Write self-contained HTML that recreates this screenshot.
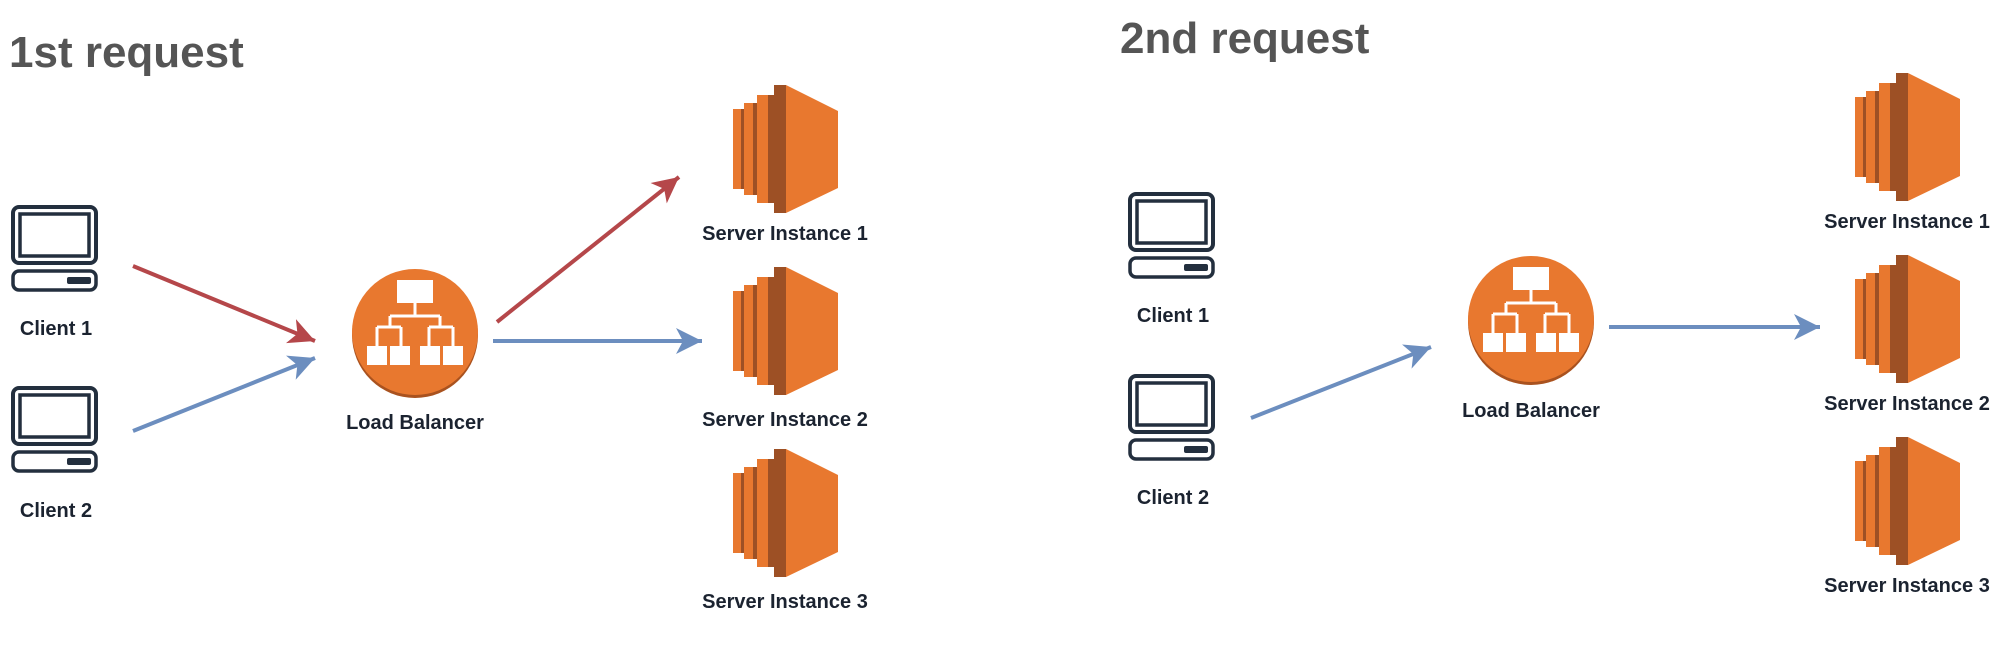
<!DOCTYPE html>
<html><head><meta charset="utf-8"><style>
html,body{margin:0;padding:0;background:#fff;}
svg{display:block;}
.t{font-family:"Liberation Sans",Arial,sans-serif;font-weight:bold;font-size:20px;fill:#1b2330;text-anchor:middle;}
.h{font-family:"Liberation Sans",Arial,sans-serif;font-weight:bold;font-size:44px;fill:#555;}
</style></head><body>
<svg width="2000" height="664" viewBox="0 0 2000 664" xmlns="http://www.w3.org/2000/svg">
<defs>
<g id="client">
  <rect x="2" y="2" width="83" height="56" rx="6" fill="none" stroke="#232f3e" stroke-width="4"/>
  <rect x="9" y="9" width="69" height="42" fill="none" stroke="#232f3e" stroke-width="3.5"/>
  <rect x="2" y="66" width="83" height="19" rx="6" fill="none" stroke="#232f3e" stroke-width="3.5"/>
  <rect x="56" y="72" width="24" height="7" rx="2" fill="#232f3e"/>
</g>
<g id="server">
  <rect x="0" y="24" width="12" height="80" fill="#e8782f"/>
  <rect x="8" y="24" width="4" height="80" fill="#9d5025"/>
  <rect x="11" y="18" width="14" height="92" fill="#e8782f"/>
  <rect x="20" y="18" width="5" height="92" fill="#9d5025"/>
  <rect x="24" y="10" width="18" height="108" fill="#e8782f"/>
  <rect x="35" y="10" width="7" height="108" fill="#9d5025"/>
  <polygon points="41,0 53,0 53,128 41,128" fill="#9d5025"/>
  <polygon points="53,0 105,26 105,103 53,128" fill="#e8782f"/>
</g>
<g id="lb">
  <circle cx="0" cy="3" r="63" fill="#a9521f"/>
  <circle cx="0" cy="0" r="63" fill="#e8782f"/>
  <rect x="-18" y="-52" width="36" height="23" fill="#fff"/>
  <g stroke="#fff" stroke-width="3" fill="none">
    <path d="M0,-29 V-16 M-25,-16 H25 M-25,-16 V-5 M25,-16 V-5 M-38,-5 H-14 M14,-5 H38 M-38,-5 V14 M-14,-5 V14 M14,-5 V14 M38,-5 V14"/>
  </g>
  <rect x="-48" y="14" width="20" height="19" fill="#fff"/>
  <rect x="-25" y="14" width="20" height="19" fill="#fff"/>
  <rect x="5" y="14" width="20" height="19" fill="#fff"/>
  <rect x="28" y="14" width="20" height="19" fill="#fff"/>
</g>
<marker id="ar" markerUnits="userSpaceOnUse" markerWidth="30" markerHeight="30" refX="26" refY="13" orient="auto" viewBox="0 0 30 26">
  <path d="M0,0 L26,13 L0,26 L7,13 Z" fill="#b5474a"/>
</marker>
<marker id="ab" markerUnits="userSpaceOnUse" markerWidth="30" markerHeight="30" refX="26" refY="13" orient="auto" viewBox="0 0 30 26">
  <path d="M0,0 L26,13 L0,26 L7,13 Z" fill="#6c8ebf"/>
</marker>
</defs>

<text class="h" x="9" y="67">1st request</text>
<text class="h" x="1120" y="53">2nd request</text>

<!-- left diagram -->
<use href="#client" x="11" y="205"/>
<text class="t" x="56" y="335">Client 1</text>
<use href="#client" x="11" y="386"/>
<text class="t" x="56" y="517">Client 2</text>

<use href="#lb" x="415" y="332"/>
<text class="t" x="415" y="429">Load Balancer</text>

<use href="#server" x="733" y="85"/>
<text class="t" x="785" y="240">Server Instance 1</text>
<use href="#server" x="733" y="267"/>
<text class="t" x="785" y="426">Server Instance 2</text>
<use href="#server" x="733" y="449"/>
<text class="t" x="785" y="608">Server Instance 3</text>

<line x1="133" y1="266" x2="315" y2="341" stroke="#b5474a" stroke-width="4" marker-end="url(#ar)"/>
<line x1="133" y1="431" x2="315" y2="358" stroke="#6c8ebf" stroke-width="4" marker-end="url(#ab)"/>
<line x1="497" y1="322" x2="679" y2="177" stroke="#b5474a" stroke-width="4" marker-end="url(#ar)"/>
<line x1="493" y1="341" x2="702" y2="341" stroke="#6c8ebf" stroke-width="4" marker-end="url(#ab)"/>

<!-- right diagram -->
<use href="#client" x="1128" y="192"/>
<text class="t" x="1173" y="322">Client 1</text>
<use href="#client" x="1128" y="374"/>
<text class="t" x="1173" y="504">Client 2</text>

<use href="#lb" x="1531" y="319"/>
<text class="t" x="1531" y="417">Load Balancer</text>

<use href="#server" x="1855" y="73"/>
<text class="t" x="1907" y="228">Server Instance 1</text>
<use href="#server" x="1855" y="255"/>
<text class="t" x="1907" y="410">Server Instance 2</text>
<use href="#server" x="1855" y="437"/>
<text class="t" x="1907" y="592">Server Instance 3</text>

<line x1="1251" y1="418" x2="1431" y2="347" stroke="#6c8ebf" stroke-width="4" marker-end="url(#ab)"/>
<line x1="1609" y1="327" x2="1820" y2="327" stroke="#6c8ebf" stroke-width="4" marker-end="url(#ab)"/>
</svg>
</body></html>
